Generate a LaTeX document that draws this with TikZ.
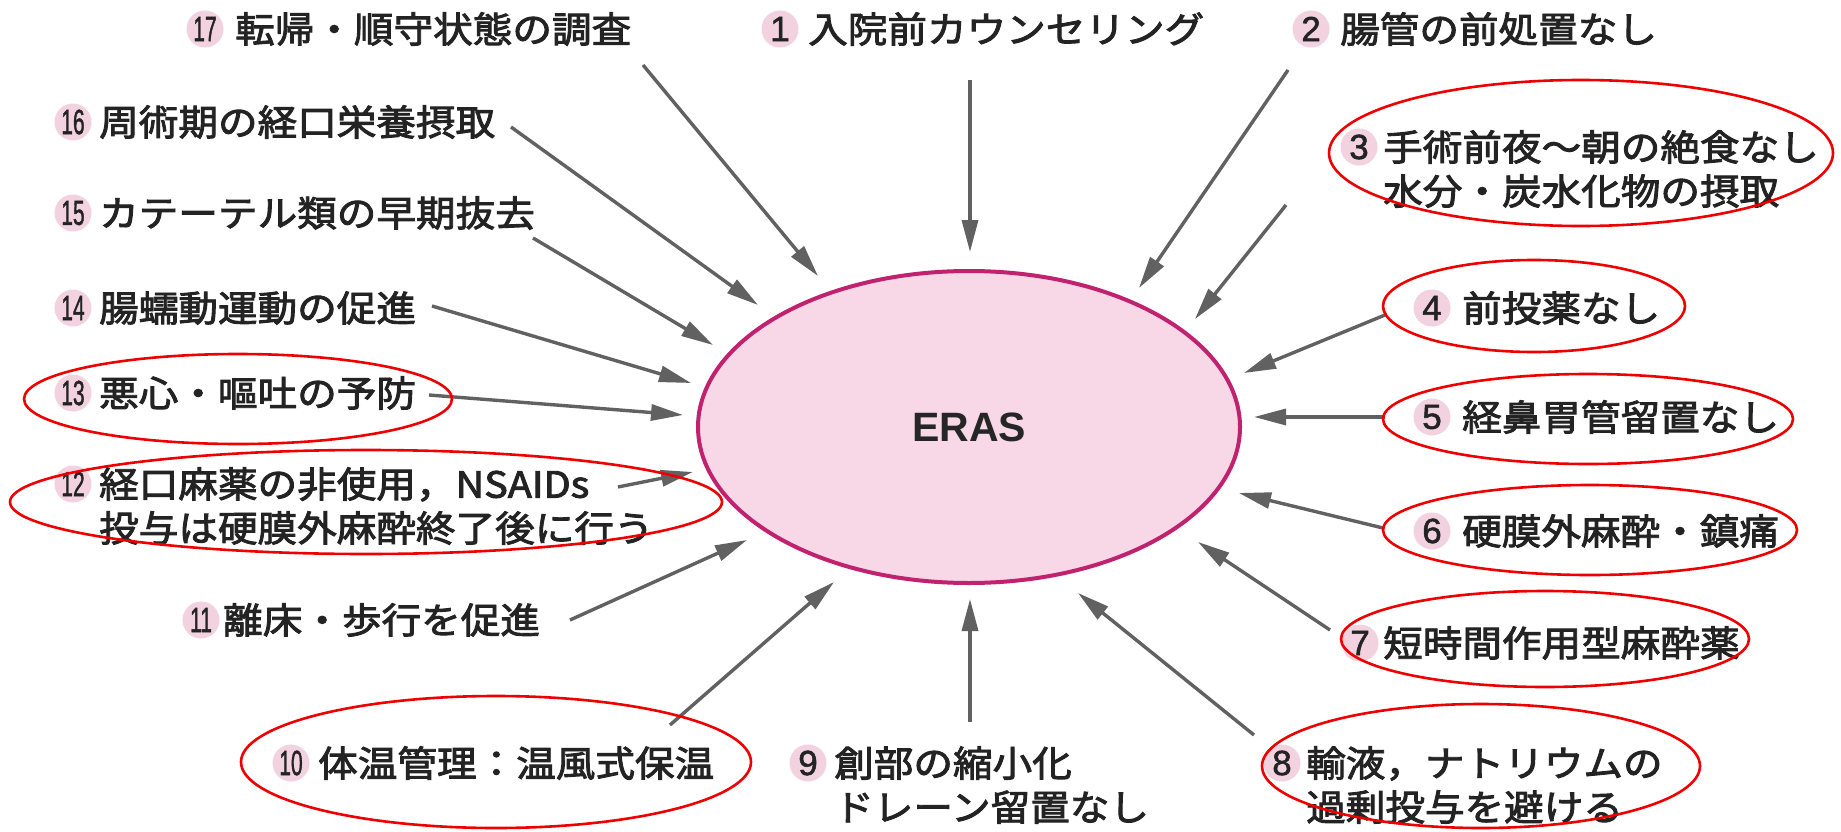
\documentclass[tikz,border=0pt]{standalone}
\usepackage{fontspec}
\usepackage{graphicx}
\usetikzlibrary{arrows.meta,shapes.geometric}
\newfontfamily\jpfont[FakeStretch=1.1,FakeBold=2.5]{Noto Sans CJK JP}
\newfontfamily\numfont[FakeBold=1.5]{Liberation Sans}
\newfontfamily\erasfont{Liberation Sans}
\definecolor{arrgray}{HTML}{616161}
\definecolor{erasfill}{HTML}{F8D8E6}
\definecolor{erasline}{HTML}{C0226F}
\definecolor{badgepink}{HTML}{F2D2DF}
\definecolor{txtcol}{HTML}{232323}
\definecolor{redmark}{HTML}{EE0000}
\newcommand{\two}[1]{\scalebox{0.6}[1]{#1}}
\begin{document}
\begin{tikzpicture}[x=1pt,y=-1pt,
  lbl/.style={font=\jpfont\fontsize{36}{44}\selectfont, text=txtcol, inner sep=0pt, anchor=west, align=left},
  badge/.style={circle, fill=badgepink, minimum size=37pt, inner sep=0pt, font=\numfont\fontsize{35}{35}\selectfont, text=txtcol},
  arr/.style={draw=arrgray, line width=3.4pt, -{Triangle[length=32pt,width=16pt]}},
  redring/.style={draw=redmark, line width=2.6pt},
]
\fill[white] (0,0) rectangle (1841,832);
\useasboundingbox (0,0) rectangle (1841,832);

% central ellipse
\node[ellipse, draw=erasline, fill=erasfill, line width=4pt, minimum width=542pt, minimum height=312pt,
      font=\erasfont\bfseries\fontsize{41}{41}\selectfont, text=black!85] (eras) at (969,427) {ERAS};

% badges
\node[badge] (b1) at (780,29) {1};
\node[badge] (b2) at (1311,29) {2};
\node[badge] (b3) at (1359,147) {3};
\node[badge] (b4) at (1432,308) {4};
\node[badge] (b5) at (1432,417) {5};
\node[badge] (b6) at (1432,531) {6};
\node[badge] (b7) at (1360,643) {7};
\node[badge] (b8) at (1282,763) {8};
\node[badge] (b9) at (808,763) {9};
\node[badge] (b10) at (291,763) {\two{10}};
\node[badge] (b11) at (201,620) {\two{11}};
\node[badge] (b12) at (73,484) {\two{12}};
\node[badge] (b13) at (73,393) {\two{13}};
\node[badge] (b14) at (73,308) {\two{14}};
\node[badge] (b15) at (73,213) {\two{15}};
\node[badge] (b16) at (73,122) {\two{16}};
\node[badge] (b17) at (205,29) {\two{17}};

% labels
\node[lbl] (t1) at (808,29) {入院前カウンセリング};
\node[lbl] (t2) at (1340,29) {腸管の前処置なし};
\node[lbl] (t3) at (1383,169) {手術前夜～朝の絶食なし\\水分・炭水化物の摂取};
\node[lbl] (t4) at (1462,308) {前投薬なし};
\node[lbl] (t5) at (1462,417) {経鼻胃管留置なし};
\node[lbl] (t6) at (1462,531) {硬膜外麻酔・鎮痛};
\node[lbl] (t7) at (1383,643) {短時間作用型麻酔薬};
\node[lbl] (t8) at (1306,785) {輸液，ナトリウムの\\過剰投与を避ける};
\node[lbl] (t9) at (834,785) {創部の縮小化\\ドレーン留置なし};
\node[lbl] (t10) at (318,763) {体温管理：温風式保温};
\node[lbl] (t11) at (223,620) {離床・歩行を促進};
\node[lbl] (t12) at (99,506) {経口麻薬の非使用，NSAIDs\\投与は硬膜外麻酔終了後に行う};
\node[lbl] (t13) at (99,393) {悪心・嘔吐の予防};
\node[lbl] (t14) at (99,308) {腸蠕動運動の促進};
\node[lbl] (t15) at (99,213) {カテーテル類の早期抜去};
\node[lbl] (t16) at (99,122) {周術期の経口栄養摂取};
\node[lbl] (t17) at (235,29) {転帰・順守状態の調査};

% connector end points
\coordinate (a1) at (970,80);    \coordinate (h1) at (970,252);
\coordinate (a2) at (1288,70);   \coordinate (h2) at (1139,288);
\coordinate (a3) at (1286,205);  \coordinate (h3) at (1195,319);
\coordinate (a4) at (1385,315);  \coordinate (h4) at (1244,373);
\coordinate (a5) at (1385,417);  \coordinate (h5) at (1254,417);
\coordinate (a6) at (1383,528);  \coordinate (h6) at (1239,493);
\coordinate (a7) at (1330,630);  \coordinate (h7) at (1198,542);
\coordinate (a8) at (1254,735);  \coordinate (h8) at (1078,593);
\coordinate (a9) at (970,722);   \coordinate (h9) at (970,599);
\coordinate (a10) at (670,725);  \coordinate (h10) at (834,582);
\coordinate (a11) at (570,620);  \coordinate (h11) at (747,540);
\coordinate (a12) at (618,487);  \coordinate (h12) at (693,472);
\coordinate (a13) at (429,395);  \coordinate (h13) at (683,415);
\coordinate (a14) at (432,306);  \coordinate (h14) at (691,383);
\coordinate (a15) at (533,238);  \coordinate (h15) at (713,345);
\coordinate (a16) at (511,127);  \coordinate (h16) at (758,305);
\coordinate (a17) at (643,65);   \coordinate (h17) at (818,276);

\foreach \i in {1,...,17} { \draw[arr] (a\i) -- (h\i); }

% red highlight rings
\draw[redring] (1581,153) ellipse [x radius=252, y radius=73];
\draw[redring] (1534,306) ellipse [x radius=151, y radius=46];
\draw[redring] (1588,419) ellipse [x radius=205, y radius=45];
\draw[redring] (1590,530) ellipse [x radius=207, y radius=45];
\draw[redring] (1545,639) ellipse [x radius=204, y radius=48];
\draw[redring] (1481,766) ellipse [x radius=219, y radius=62];
\draw[redring] (496,762) ellipse [x radius=255, y radius=66];
\draw[redring] (366,502) ellipse [x radius=356, y radius=52];
\draw[redring] (238,399) ellipse [x radius=214, y radius=45];
\end{tikzpicture}
\end{document}
